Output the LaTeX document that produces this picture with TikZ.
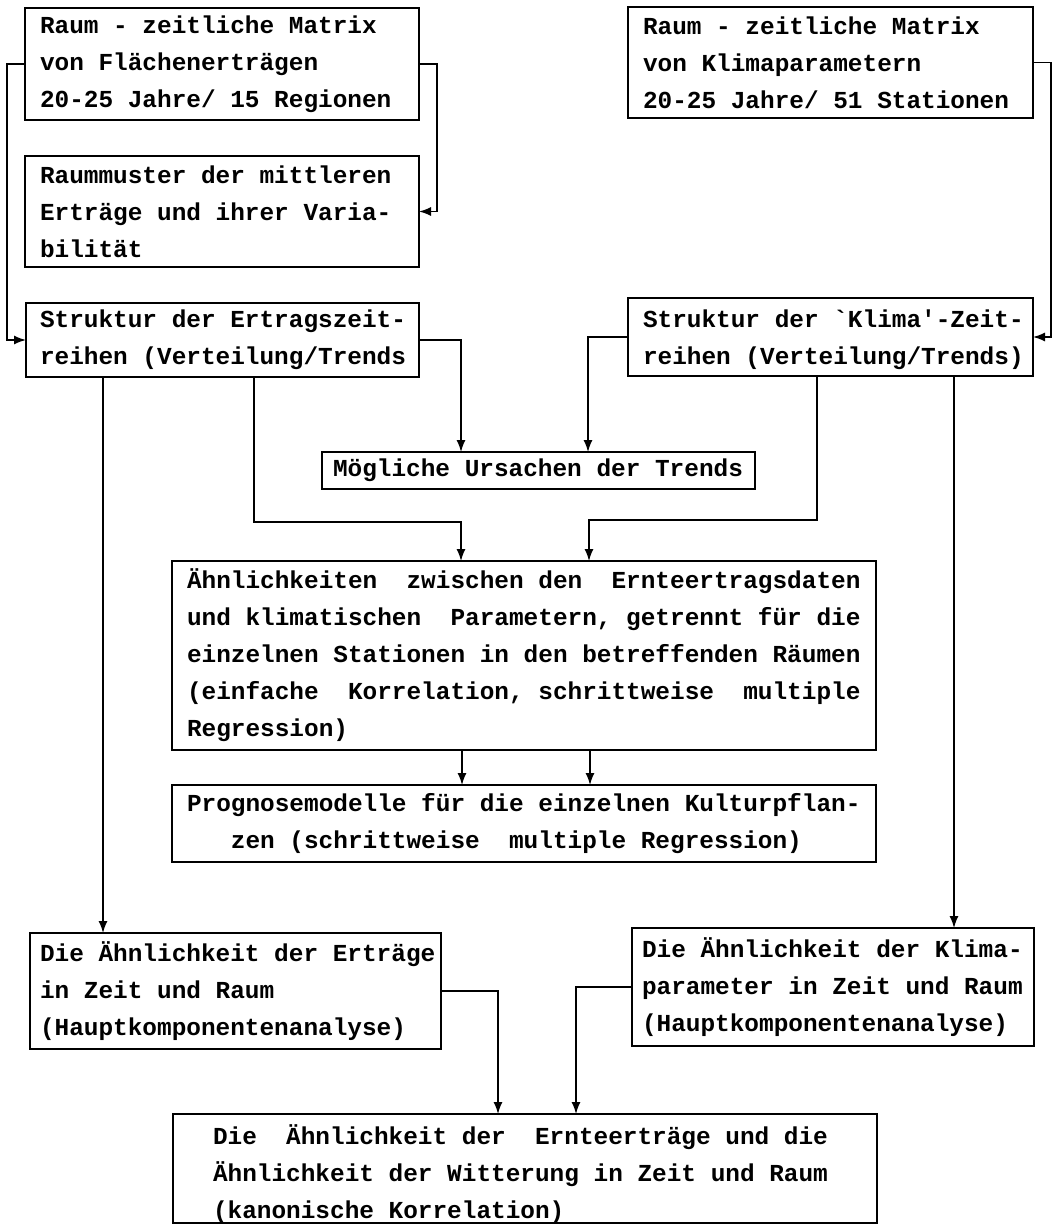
\documentclass[tikz,border=0pt]{standalone}
\usepackage{fontspec}
\setmonofont{Liberation Mono}
\usetikzlibrary{arrows.meta}
\newcommand{\boxfont}{\ttfamily\bfseries\fontsize{24.4}{37}\selectfont}
\newcommand{\s}{\kern14.64pt\relax}
\tikzset{
 bx/.style={draw, line width=1.6pt, outer sep=0pt, anchor=north west, align=left,
   inner ysep=0pt, font=\boxfont},
 arr/.style={line width=1.4pt, -{Latex[length=12pt,width=9pt]}}
}
\newcommand{\mb}[1]{\mbox{#1}}
\begin{document}
\begin{tikzpicture}[x=1pt,y=-1pt]
\useasboundingbox (0,0) rectangle (1055,1225);
% boxes
\node[bx, minimum width=394pt, minimum height=112pt, inner xsep=15pt, text width=364pt] (A) at (25,8)
  {\mb{Raum\s-\s zeitliche\s Matrix}\\\mb{von\s Flächenerträgen}\\\mb{20-25\s Jahre/\s 15\s Regionen}};
\node[bx, minimum width=405pt, minimum height=111pt, inner xsep=15pt, text width=375pt] (B) at (628,7)
  {\mb{Raum\s-\s zeitliche\s Matrix}\\\mb{von\s Klimaparametern}\\\mb{20-25\s Jahre/\s 51\s Stationen}};
\node[bx, minimum width=394pt, minimum height=111pt, inner xsep=15pt, text width=364pt] (C) at (25,156)
  {\mb{Raummuster\s der\s mittleren}\\\mb{Erträge\s und\s ihrer\s Varia-}\\\mb{bilität}};
\node[bx, minimum width=393pt, minimum height=74pt, inner xsep=14pt, text width=365pt] (D) at (26,303)
  {\mb{Struktur\s der\s Ertragszeit-}\\\mb{reihen\s (Verteilung/Trends}};
\node[bx, minimum width=405pt, minimum height=78pt, inner xsep=15pt, text width=375pt] (E) at (628,298)
  {\mb{\rule{0pt}{24pt}Struktur\s der\s `Klima'-Zeit-}\\\mb{reihen\s (Verteilung/Trends)}};
\node[bx, minimum width=433pt, minimum height=37pt, inner xsep=11pt, text width=411pt] (F) at (322,452)
  {\mb{Mögliche\s Ursachen\s der\s Trends}};
\node[bx, minimum width=704pt, minimum height=189pt, inner xsep=15pt, text width=674pt] (G) at (172,561)
  {\mb{Ähnlichkeiten\s\s zwischen\s den\s\s Ernteertragsdaten}\\
   \mb{und\s klimatischen\s\s Parametern,\s getrennt\s für\s die}\\
   \mb{einzelnen\s Stationen\s in\s den\s betreffenden\s Räumen}\\
   \mb{(einfache\s\s Korrelation,\s schrittweise\s\s multiple}\\
   \mb{Regression)}};
\node[bx, minimum width=704pt, minimum height=77pt, inner xsep=15pt, text width=674pt] (H) at (172,785)
  {\mb{Prognosemodelle\s für\s die\s einzelnen\s Kulturpflan-}\\
   \mb{\s\s\s zen\s (schrittweise\s\s multiple\s Regression)}};
\node[bx, minimum width=411pt, minimum height=116pt, inner xsep=10pt, text width=391pt] (I) at (30,933)
  {\mb{Die\s Ähnlichkeit\s der\s Erträge}\\\mb{in\s Zeit\s und\s Raum}\\\mb{(Hauptkomponentenanalyse)}};
\node[bx, minimum width=402pt, minimum height=118pt, inner xsep=10pt, text width=382pt] (J) at (632,928)
  {\mb{Die\s Ähnlichkeit\s der\s Klima-}\\\mb{parameter\s in\s Zeit\s und\s Raum}\\\mb{(Hauptkomponentenanalyse)}};
\node[bx, minimum width=704pt, minimum height=109pt, inner xsep=40pt, text width=624pt] (K) at (173,1114)
  {\mb{\rule{0pt}{30pt}Die\s\s Ähnlichkeit\s der\s\s Ernteerträge\s und\s die}\\
   \mb{Ähnlichkeit\s der\s Witterung\s in\s Zeit\s und\s Raum}\\
   \mb{(kanonische\s Korrelation)}};
% connectors
\draw[arr] (A.west) -- ++(-18,0) |- (D.west);
\draw[arr] (A.east) -- ++(18,0) |- (C.east);
\draw[arr] (B.east) -- ++(18,0) |- (E.east);
\draw[arr] (D.east) -| ([xshift=139pt]F.north west);
\draw[arr] (E.west) -| ([xshift=266pt]F.north west);
\draw[arr] ([xshift=228pt]D.south west) -- ++(0,145) -| ([xshift=289pt]G.north west);
\draw[arr] ([xshift=189pt]E.south west) -- ++(0,144) -| ([xshift=417pt]G.north west);
\draw[arr] ([xshift=290pt]G.south west) -- ([xshift=290pt]H.north west);
\draw[arr] ([xshift=418pt]G.south west) -- ([xshift=418pt]H.north west);
\draw[arr] ([xshift=77pt]D.south west) -- ([xshift=73pt]I.north west);
\draw[arr] ([xshift=326pt]E.south west) -- ([xshift=322pt]J.north west);
\draw[arr] (I.east) -| ([xshift=325pt]K.north west);
\draw[arr] (J.west) -| ([xshift=403pt]K.north west);
\end{tikzpicture}
\end{document}
